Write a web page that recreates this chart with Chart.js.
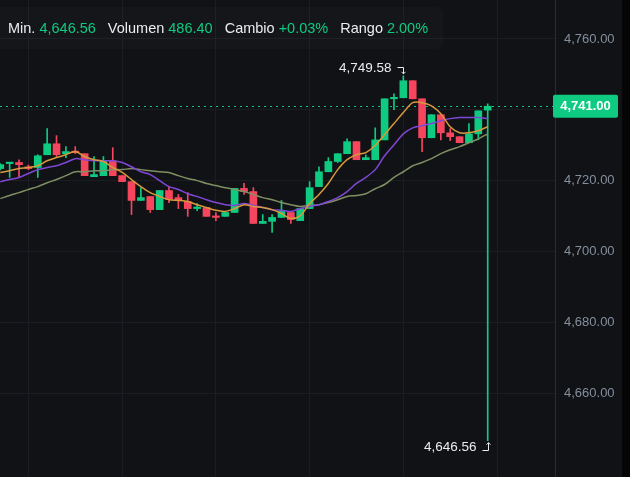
<!DOCTYPE html>
<html><head><meta charset="utf-8">
<script src="https://cdn.jsdelivr.net/npm/chart.js@4.4.1/dist/chart.umd.min.js"></script>
<style>
html,body{margin:0;padding:0;background:#111216;overflow:hidden}
#wrap{position:relative;width:630px;height:477px;background:#111216}
#c{position:absolute;left:0;top:0}
#hdr{position:absolute;left:0;top:7px;width:443px;height:42px;background:rgba(255,255,255,0.02);border-radius:0 6px 6px 0;font:14.5px "Liberation Sans",Arial,sans-serif;color:#eaecef;white-space:nowrap}
#hdr .row{position:absolute;left:8px;top:12px;line-height:18px}
#hdr .g{color:#0ecb81;margin-left:4px;margin-right:12px}
#edge{position:absolute;right:0;top:0;width:8px;height:477px;background:#050506}
</style></head>
<body>
<div id="wrap">
<canvas id="c" width="630" height="477"></canvas>
<div id="hdr"><div class="row">Min.<span class="g">4,646.56</span>Volumen<span class="g">486.40</span>Cambio<span class="g">+0.03%</span>Rango<span class="g">2.00%</span></div></div>
<div id="edge"></div>
</div>
<script>
const open  = [4723.4,4724.8,4725.1,4723.9,4723.7,4727.3,4730.4,4727.6,4728.2,4727.6,4721.1,4721.4,4725.6,4721.4,4719.7,4714.4,4715.5,4711.8,4717.2,4715.2,4714.1,4712.1,4712.4,4709.9,4709.9,4711.0,4717.8,4716.9,4707.9,4708.5,4709.6,4711.0,4708.7,4712.1,4718.3,4722.5,4725.4,4727.6,4731.0,4725.9,4725.9,4731.5,4743.1,4743.4,4748.2,4743.1,4732.1,4738.6,4733.5,4732.4,4730.7,4733.2,4739.9];
const high  = [4724.8,4725.1,4725.9,4724.4,4727.3,4734.7,4732.7,4729.6,4729.6,4727.6,4726.8,4726.8,4729.3,4721.4,4719.7,4718.0,4715.5,4717.2,4718.3,4716.1,4716.6,4713.5,4712.4,4711.0,4711.0,4717.8,4719.2,4718.0,4710.4,4710.4,4714.4,4711.0,4712.1,4719.7,4723.9,4726.5,4727.6,4731.8,4731.0,4727.3,4734.9,4743.1,4744.5,4749.58,4748.2,4743.1,4738.6,4738.6,4734.7,4732.4,4736.1,4739.7,4741.7];
const low   = [4723.0,4720.9,4721.1,4723.1,4720.9,4727.3,4726.8,4726.5,4727.6,4721.4,4721.1,4721.4,4721.4,4719.7,4710.4,4714.4,4711.0,4711.8,4713.8,4712.1,4709.9,4711.5,4709.9,4708.7,4709.9,4711.0,4716.1,4707.9,4707.9,4705.4,4709.6,4707.9,4708.7,4712.1,4718.3,4722.5,4725.1,4727.6,4725.9,4725.9,4725.9,4731.5,4740.0,4743.4,4743.1,4728.2,4732.1,4731.5,4731.3,4730.7,4730.7,4731.5,4646.56];
const close = [4724.5,4725.1,4724.5,4723.4,4727.0,4730.4,4727.3,4728.2,4727.9,4721.4,4721.7,4725.6,4721.4,4719.7,4714.4,4715.2,4711.8,4717.2,4714.7,4714.4,4712.1,4712.4,4709.9,4709.6,4711.0,4717.8,4716.9,4707.9,4708.5,4709.6,4711.3,4709.0,4712.1,4718.0,4722.5,4725.4,4727.6,4731.0,4725.9,4726.5,4731.5,4743.1,4743.4,4748.2,4743.1,4732.1,4738.6,4733.5,4732.4,4730.7,4733.2,4739.7,4741.0];
const maFast = [4722.3,4722.8,4723.4,4723.7,4724.2,4725.6,4726.5,4727.3,4728.2,4726.8,4725.9,4725.4,4723.7,4722.3,4720.3,4718.3,4716.6,4715.5,4714.6,4714.4,4714.1,4713.2,4712.4,4711.6,4711.3,4712.1,4713.2,4712.7,4712.4,4711.8,4710.7,4709.3,4710.1,4713.5,4716.1,4719.2,4723.1,4725.9,4727.3,4727.9,4729.9,4733.0,4736.1,4739.2,4742.0,4742.0,4741.1,4738.9,4735.2,4733.5,4733.5,4734.1,4735.2];
const maMid = [4719.7,4720.3,4720.9,4722.0,4723.1,4723.7,4724.2,4725.1,4726.2,4725.9,4725.6,4725.6,4725.6,4725.1,4723.9,4722.5,4721.7,4720.0,4718.3,4717.5,4716.3,4715.5,4714.6,4713.8,4713.2,4713.0,4713.5,4713.0,4712.4,4711.8,4711.6,4711.3,4712.1,4712.7,4713.2,4714.1,4715.2,4716.9,4719.2,4720.9,4723.1,4727.0,4730.1,4733.2,4734.9,4735.5,4736.1,4736.9,4737.5,4737.8,4737.8,4737.8,4737.5];
const maSlow = [4714.9,4715.8,4716.6,4717.5,4718.3,4719.4,4720.3,4721.4,4722.5,4722.5,4722.8,4722.8,4723.1,4723.1,4723.4,4723.1,4722.8,4722.5,4722.3,4721.4,4720.6,4720.0,4719.2,4718.6,4718.0,4717.5,4716.9,4716.1,4715.2,4714.6,4713.8,4713.2,4712.7,4713.0,4713.2,4713.8,4714.6,4715.5,4715.8,4716.3,4717.7,4718.9,4720.9,4722.5,4724.2,4725.1,4726.2,4727.6,4728.7,4729.6,4730.7,4731.8,4733.2];
const yTickValues = [4660,4680,4700,4720,4740,4760];
const xGridIndex = [3,13,23,33,43,53];
const lastPrice = 4741.00;
const highMark = {index:43, value:4749.58, label:"4,749.58"};
const lowMark = {index:52, value:4646.56, label:"4,646.56"};

const GREEN = '#0ecb81', RED = '#f6465d';
const colors = open.map((o,i)=> close[i] >= o ? GREEN : RED);
const fmt = v => v.toLocaleString('en-US',{minimumFractionDigits:2,maximumFractionDigits:2});
const FONT = '"Liberation Sans", Arial, sans-serif';

const overlay = {
  id:'overlay',
  beforeDatasetsDraw(chart){
    const {ctx, chartArea, scales:{y}} = chart;
    const py = Math.round(y.getPixelForValue(lastPrice)) + 0.5;
    ctx.save();
    ctx.strokeStyle = GREEN; ctx.lineWidth = 1; ctx.setLineDash([2,4]);
    ctx.beginPath(); ctx.moveTo(chartArea.left, py); ctx.lineTo(chartArea.right, py); ctx.stroke();
    ctx.restore();
  },
  afterDraw(chart){
    const {ctx, chartArea, scales:{x,y}} = chart;
    ctx.save();
    ctx.font = '13.5px ' + FONT; ctx.fillStyle = '#eaecef'; ctx.textBaseline = 'middle'; ctx.textAlign = 'right';
    ctx.strokeStyle = '#eaecef'; ctx.lineWidth = 1;
    let hx = Math.round(x.getPixelForValue(highMark.index)) + 0.5, hy = y.getPixelForValue(highMark.value);
    ctx.fillText(highMark.label, hx - 12, hy - 8);
    ctx.beginPath(); ctx.moveTo(hx-6, Math.round(hy-9)+0.5); ctx.lineTo(hx, Math.round(hy-9)+0.5); ctx.lineTo(hx, hy-2); ctx.stroke();
    ctx.beginPath(); ctx.moveTo(hx-2, hy-4); ctx.lineTo(hx, hy-2); ctx.lineTo(hx+2, hy-4); ctx.stroke();
    let lx = Math.round(x.getPixelForValue(lowMark.index)) + 0.5, ly = y.getPixelForValue(lowMark.value);
    ctx.fillText(lowMark.label, lx - 12, ly + 7);
    ctx.beginPath(); ctx.moveTo(lx-6, Math.round(ly+9)+0.5); ctx.lineTo(lx, Math.round(ly+9)+0.5); ctx.lineTo(lx, ly+2); ctx.stroke();
    ctx.beginPath(); ctx.moveTo(lx-2, ly+4); ctx.lineTo(lx, ly+2); ctx.lineTo(lx+2, ly+4); ctx.stroke();
    const py = y.getPixelForValue(lastPrice);
    const bx = chartArea.right - 2, bw = 65, bh = 23;
    ctx.fillStyle = GREEN;
    ctx.beginPath(); ctx.roundRect(bx, py - bh/2, bw, bh, 2); ctx.fill();
    ctx.fillStyle = '#ffffff'; ctx.font = 'bold 13px ' + FONT; ctx.textAlign = 'center';
    ctx.fillText(fmt(lastPrice), bx + bw/2, py + 0.5);
    ctx.restore();
  }
};

const idx = open.map((_,i)=>i);
new Chart(document.getElementById('c'), {
  data: {
    datasets: [
      {type:'line', label:'MA fast', data: idx.map(i=>({x:i,y:maFast[i]})), borderColor:'#d69a3c', borderWidth:1.5, pointRadius:0, tension:0.3, order:1},
      {type:'line', label:'MA mid', data: idx.map(i=>({x:i,y:maMid[i]})), borderColor:'#7f47d6', borderWidth:1.5, pointRadius:0, tension:0.3, order:1},
      {type:'line', label:'MA slow', data: idx.map(i=>({x:i,y:maSlow[i]})), borderColor:'#7f8f62', borderWidth:1.5, pointRadius:0, tension:0.3, order:1},
      {type:'bar', label:'wick', data: idx.map(i=>({x:i,y:[low[i],high[i]]})), backgroundColor: colors, barThickness:1, grouped:false, order:3},
      {type:'bar', label:'body', data: idx.map(i=>({x:i,y:[open[i],close[i]]})), backgroundColor: colors, barThickness:7, minBarLength:1.5, grouped:false, order:2}
    ]
  },
  options: {
    responsive:false, animation:false,
    layout:{padding:0},
    plugins:{legend:{display:false}, tooltip:{enabled:false}},
    scales:{
      x:{type:'linear', min:-0.03, max:59.18, offset:false,
         grid:{color:'#1c1d22', drawTicks:false, offset:false}, border:{display:false},
         ticks:{display:false},
         afterBuildTicks: s => { s.ticks = xGridIndex.map(v=>({value:v})); },
         afterFit: s => { s.height = 0; s.paddingLeft = 0; s.paddingRight = 0; s.paddingTop = 0; s.paddingBottom = 0; }},
      y:{position:'right', min:4636.3, max:4771,
         grid:{color:'#1c1d22', drawTicks:false}, border:{color:'#2a2c32'},
         ticks:{color:'#848e9c', font:{size:13, family:FONT}, padding:9,
                callback: v => v === 4740 ? '' : fmt(v)},
         afterBuildTicks: s => { s.ticks = yTickValues.map(v=>({value:v})); },
         afterFit: s => { s.width = 75; s.paddingTop = 0; s.paddingBottom = 0; s.paddingLeft = 0; s.paddingRight = 0; }}
    }
  },
  plugins:[overlay]
});
</script>
</body></html>
